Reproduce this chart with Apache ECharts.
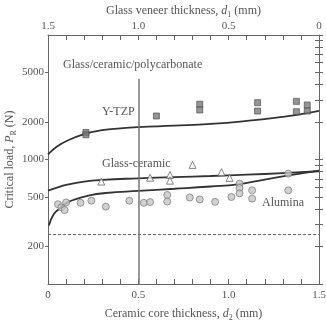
<!DOCTYPE html>
<html>
<head>
<meta charset="utf-8">
<script src="https://cdn.jsdelivr.net/npm/echarts@6/dist/echarts.min.js"></script>
<style>
  html, body { margin: 0; padding: 0; background: #fff; }
  #chart { width: 326px; height: 321px; }
</style>
</head>
<body>
<div id="chart"></div>
<script>
// tick positions and labels
var coreTicks = [0, 0.1, 0.2, 0.3, 0.4, 0.5, 0.6, 0.7, 0.8, 0.9, 1.0, 1.1, 1.2, 1.3, 1.4, 1.5];
var coreLabels = [0, 0.5, 1.0, 1.5];
var loadTicks = [100, 200, 300, 400, 500, 600, 700, 800, 900,
                 1000, 2000, 3000, 4000, 5000, 6000, 7000, 8000, 9000, 10000];
var loadLabels = [200, 500, 1000, 2000, 5000];

// measured points [d2 (mm), P_R (N)]
var ytzpPoints = [[0.21, 1650], [0.21, 1580], [0.60, 2235], [0.84, 2780], [0.84, 2500],
                  [1.16, 2860], [1.16, 2450], [1.375, 2930], [1.375, 2420], [1.435, 2740], [1.435, 2450]];
var glassCeramicPoints = [[0.295, 665], [0.565, 714], [0.675, 751], [0.675, 676],
                          [0.80, 905], [0.96, 790], [1.005, 712]];
var aluminaPoints = [[0.055, 437], [0.074, 413], [0.092, 393], [0.10, 452], [0.18, 449],
                     [0.24, 467], [0.32, 418], [0.45, 467], [0.53, 449], [0.565, 455],
                     [0.66, 519], [0.66, 459], [0.785, 495], [0.84, 478], [0.925, 457],
                     [1.015, 500], [1.06, 640], [1.06, 590], [1.06, 535], [1.13, 565],
                     [1.13, 485], [1.33, 565], [1.33, 770]];

// model curves
var ytzpCurve = [[0, 1100], [0.05, 1270], [0.1, 1400], [0.2, 1600], [0.3, 1720], [0.4, 1780],
                 [0.5, 1820], [0.7, 1870], [0.9, 1930], [1.1, 2040], [1.3, 2200], [1.4, 2310], [1.5, 2460]];
var glassCeramicCurve = [[0, 562], [0.05, 595], [0.1, 625], [0.2, 665], [0.3, 686], [0.5, 706],
                         [0.7, 722], [0.9, 737], [1.1, 755], [1.3, 777], [1.5, 805]];
var aluminaCurve = [[0.005, 295], [0.03, 360], [0.065, 405], [0.1, 445], [0.14, 473], [0.23, 515],
                    [0.32, 538], [0.5, 560], [0.7, 582], [0.9, 607], [1.05, 632], [1.2, 690],
                    [1.35, 752], [1.5, 815]];

var refThickness = 0.5;
var refLineTop = 4450;
var thresholdLoad = 250;

var serif = '"Liberation Serif", "DejaVu Serif", serif';
var textColor = '#555';
var axisColor = '#666';

function fmtThick(v) { return v === 0 ? '0' : v.toFixed(1); }
function fmtLoad(v) { return String(Math.round(v)); }

var nameStyle = {
    fontFamily: serif, fontSize: 12, color: textColor,
    rich: {
        n: { fontFamily: serif, fontSize: 12, color: textColor, lineHeight: 16, verticalAlign: 'bottom' },
        i: { fontFamily: serif, fontSize: 12, fontStyle: 'italic', color: textColor, lineHeight: 16, verticalAlign: 'bottom' },
        s: { fontFamily: serif, fontSize: 8, color: textColor, lineHeight: 16, verticalAlign: 'bottom', padding: [0, 0, -2, 0] }
    }
};

var chart = echarts.init(document.getElementById('chart'));
chart.setOption({
    animation: false,
    grid: { left: 48, right: 7, top: 35, bottom: 37, outerBoundsMode: 'none', containLabel: false },
    xAxis: [{
        type: 'value', min: 0, max: 1.5, position: 'bottom',
        name: '{n|Ceramic core thickness, }{i|d}{s|2}{n| (mm)}',
        nameLocation: 'middle', nameGap: 20, nameMoveOverlap: false, nameTextStyle: nameStyle,
        axisLine: { lineStyle: { color: axisColor, width: 1 } },
        axisTick: { inside: true, length: 5, customValues: coreTicks, lineStyle: { color: axisColor } },
        axisLabel: { customValues: coreLabels, formatter: fmtThick, margin: 6,
                     fontFamily: serif, fontSize: 11, color: textColor },
        splitLine: { show: false }
    }, {
        type: 'value', min: 0, max: 1.5, position: 'top', inverse: true,
        name: '{n|Glass veneer thickness, }{i|d}{s|1}{n| (mm)}',
        nameLocation: 'middle', nameGap: 18, nameMoveOverlap: false, nameTextStyle: nameStyle,
        axisLine: { lineStyle: { color: axisColor, width: 1 } },
        axisTick: { inside: true, length: 5, customValues: coreTicks, lineStyle: { color: axisColor } },
        axisLabel: { customValues: coreLabels, formatter: fmtThick, margin: 3,
                     fontFamily: serif, fontSize: 11, color: textColor },
        splitLine: { show: false }
    }],
    yAxis: [{
        type: 'log', min: 100, max: 10000, position: 'left',
        name: '{n|Critical load, }{i|P}{s|R}{n| (N)}',
        nameLocation: 'middle', nameGap: 32, nameRotate: 90, nameMoveOverlap: false, nameTextStyle: nameStyle,
        axisLine: { lineStyle: { color: axisColor, width: 1 } },
        axisTick: { inside: false, length: 3, customValues: loadLabels, lineStyle: { color: axisColor } },
        axisLabel: { customValues: loadLabels, formatter: fmtLoad, margin: 4,
                     fontFamily: serif, fontSize: 11, color: textColor },
        splitLine: { show: false }
    }, {
        type: 'log', min: 100, max: 10000, position: 'left',
        axisLine: { show: false },
        axisTick: { inside: true, length: 4, customValues: loadTicks, lineStyle: { color: axisColor } },
        axisLabel: { show: false },
        splitLine: { show: false }
    }, {
        type: 'log', min: 100, max: 10000, position: 'right',
        axisLine: { show: true, lineStyle: { color: axisColor, width: 1 } },
        axisTick: { inside: true, length: 4, customValues: loadTicks, lineStyle: { color: axisColor } },
        axisLabel: { show: false },
        splitLine: { show: false }
    }],
    series: [{
        type: 'line', data: ytzpCurve, smooth: true, showSymbol: false,
        lineStyle: { color: '#333', width: 1.8 }, z: 3
    }, {
        type: 'line', data: glassCeramicCurve, smooth: true, showSymbol: false,
        lineStyle: { color: '#333', width: 1.8 }, z: 3
    }, {
        type: 'line', data: aluminaCurve, smooth: true, showSymbol: false,
        lineStyle: { color: '#333', width: 1.8 }, z: 3
    }, {
        type: 'scatter', data: ytzpPoints, symbol: 'rect', symbolSize: 6,
        itemStyle: { color: '#7a7a7a', borderColor: '#444', borderWidth: 0.8 }, z: 4
    }, {
        type: 'scatter', data: glassCeramicPoints, symbol: 'triangle', symbolSize: 7,
        itemStyle: { color: '#fff', borderColor: '#666', borderWidth: 1 }, z: 4
    }, {
        type: 'scatter', data: aluminaPoints, symbol: 'circle', symbolSize: 7,
        itemStyle: { color: '#c6c6c6', borderColor: '#777', borderWidth: 0.9 }, z: 4,
        markLine: {
            silent: true, symbol: 'none', label: { show: false },
            data: [
                [{ coord: [refThickness, refLineTop], lineStyle: { color: '#777', width: 1.5, type: 'solid' } },
                 { coord: [refThickness, 100] }],
                { yAxis: thresholdLoad, lineStyle: { color: '#666', width: 1, type: [3, 2] } }
            ]
        }
    }],
    graphic: [
        { type: 'text', left: 63, top: 59, style: { text: 'Glass/ceramic/polycarbonate', font: '12px ' + serif, fill: textColor } },
        { type: 'text', left: 102, top: 106, style: { text: 'Y-TZP', font: '12px ' + serif, fill: textColor } },
        { type: 'text', left: 102, top: 158, style: { text: 'Glass-ceramic', font: '12px ' + serif, fill: textColor } },
        { type: 'text', left: 262, top: 197, style: { text: 'Alumina', font: '12px ' + serif, fill: textColor } }
    ]
});
</script>
</body>
</html>
